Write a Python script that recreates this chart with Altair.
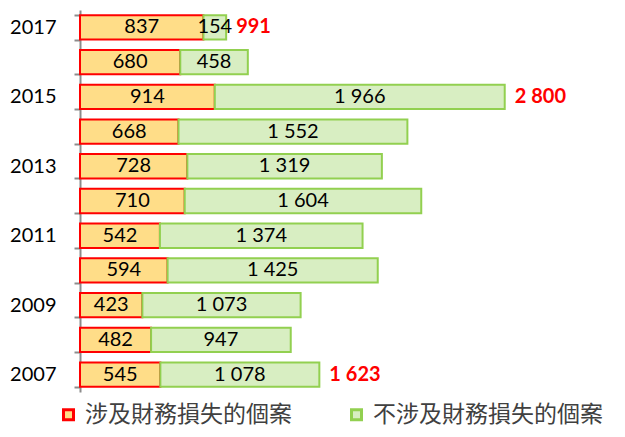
import altair as alt
import pandas as pd

years = [2017, 2016, 2015, 2014, 2013, 2012, 2011, 2010, 2009, 2008, 2007]
loss = [837, 680, 914, 668, 728, 710, 542, 594, 423, 482, 545]
no_loss = [154, 458, 1966, 1552, 1319, 1604, 1374, 1425, 1073, 947, 1078]
series_names = ["涉及財務損失的個案", "不涉及財務損失的個案"]
total_years = [2017, 2015, 2007]
total_labels = ["991", "2 800", "1 623"]

def fmt(v):
    return f"{v:,}".replace(",", " ")

rows = []
for y, a, b in zip(years, loss, no_loss):
    rows.append({"year": y, "series": series_names[0], "value": a, "order": 0, "label": fmt(a)})
    rows.append({"year": y, "series": series_names[1], "value": b, "order": 1, "label": fmt(b)})
df = pd.DataFrame(rows)

tot_rows = []
for y, lab in zip(total_years, total_labels):
    i = years.index(y)
    tot_rows.append({"year": y, "total": loss[i] + no_loss[i], "label": lab})
df_tot = pd.DataFrame(tot_rows)

yscale = alt.Scale(paddingInner=0.3, paddingOuter=0.15)
xscale = alt.Scale(domain=[0, 3560], nice=False, zero=True)

base = alt.Chart(df).transform_stack(
    stack="value", groupby=["year"], as_=["x0", "x1"],
    sort=[alt.SortField("order", order="ascending")]
).transform_calculate(mid="(datum.x0 + datum.x1) / 2")

bars = base.mark_bar(strokeWidth=2).encode(
    y=alt.Y("year:O", sort="descending", scale=yscale,
            axis=alt.Axis(title=None, labelExpr="datum.value % 2 == 1 ? datum.label : ''",
                          tickBand="extent", tickSize=6, tickColor="#8c8c8c", tickWidth=2,
                          domainColor="#8c8c8c", domainWidth=2,
                          labelFontSize=20, labelColor="#000000", labelFont="Lato",
                          labelPadding=18)),
    x=alt.X("x0:Q", scale=xscale, axis=None),
    x2="x1:Q",
    fill=alt.Fill("series:N", scale=alt.Scale(domain=series_names, range=["#FFDD88", "#D8EEC2"]),
                  legend=alt.Legend(title=None, orient="none", direction="horizontal",
                                    legendX=-23, legendY=393,
                                    symbolType="square", symbolSize=100, symbolStrokeWidth=3,
                                    labelFontSize=23, labelFont="Noto Sans CJK TC",
                                    labelLimit=0, labelOffset=5,
                                    labelColor="#404040", columnPadding=53)),
    stroke=alt.Stroke("series:N", scale=alt.Scale(domain=series_names, range=["#FF0000", "#92D050"]),
                      legend=None),
)

labels = base.mark_text(fontSize=20, font="Lato", color="#000000").encode(
    y=alt.Y("year:O", sort="descending", scale=yscale),
    x=alt.X("mid:Q", scale=xscale),
    text="label:N",
)

totals = alt.Chart(df_tot).mark_text(fontSize=20, font="Lato", fontWeight="bold",
                                     color="#FF0000", align="left", dx=10).encode(
    y=alt.Y("year:O", sort="descending", scale=yscale),
    x=alt.X("total:Q", scale=xscale),
    text="label:N",
)

chart = alt.layer(bars, labels, totals).properties(
    width=525, height=382,
    padding={"left": 72, "top": 2, "right": 12, "bottom": 37},
    autosize=alt.AutoSizeParams(type="none"),
).configure_view(stroke=None)

chart.save("out.html", embed_options={"renderer": "svg", "actions": False})
